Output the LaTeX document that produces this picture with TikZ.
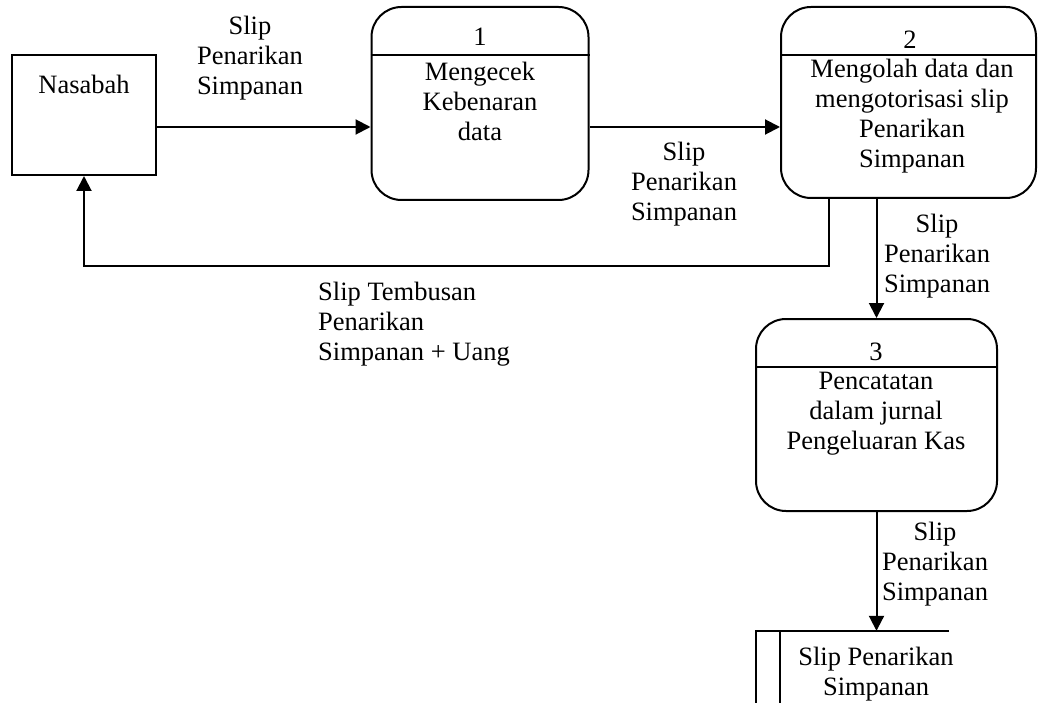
\documentclass[tikz,border=0pt]{standalone}
\usepackage{fontspec}
\setmainfont{Liberation Serif}
\usetikzlibrary{arrows.meta}
\begin{document}
\begin{tikzpicture}[x=1pt,y=-1pt,
  every node/.style={font=\fontsize{26.5}{30}\selectfont},
  ln/.style={line width=2pt},
  extbox/.style={draw,line width=2pt,minimum width=144pt,minimum height=120pt,inner sep=0pt},
  procbox/.style={draw,line width=2pt,rounded corners=30pt,inner sep=0pt},
  txt/.style={align=center,inner sep=0pt},
  arr/.style={line width=2pt,-{Triangle[length=15pt,width=15pt]}}]
\useasboundingbox (0,0) rectangle (1038,703);
% external entity
\node[extbox] (nas) at (84,115) {};
\node[txt] (nasT) at (84,84) {Nasabah};
% process 1
\node[procbox,minimum width=217pt,minimum height=193pt] (p1) at (480,103.5) {};
\coordinate (s1) at (0,55);
\draw[ln] (p1.west |- s1) -- (p1.east |- s1);
\node[txt] (p1n) at (480,37) {1};
\node[txt] (p1t) at (480,101) {Mengecek\\Kebenaran\\data};
% process 2
\node[procbox,minimum width=255pt,minimum height=191pt] (p2) at (908.5,102.5) {};
\draw[ln] (p2.west |- s1) -- (p2.east |- s1);
\node[txt] (p2n) at (910,40) {2};
\node[txt] (p2t) at (912,116) {Mengolah data dan\\mengotorisasi slip\\Penarikan\\Simpanan};
% process 3
\node[procbox,minimum width=241pt,minimum height=192pt] (p3) at (876.5,415) {};
\coordinate (s3) at (0,367);
\draw[ln] (p3.west |- s3) -- (p3.east |- s3);
\node[txt] (p3n) at (876,352) {3};
\node[txt] (p3t) at (876,414) {Pencatatan\\dalam jurnal\\Pengeluaran Kas};
% data store
\node[inner sep=0pt,minimum width=193pt,minimum height=72pt] (ds) at (852.5,667) {};
\draw[ln] (ds.north east) -- (ds.north west) -- (ds.south west);
\draw[ln] ([xshift=24pt]ds.north west) -- ([xshift=24pt]ds.south west);
\node[txt] (dsT) at (876,674) {Slip Penarikan\\Simpanan};
% flows
\coordinate (f1) at (0,127);
\draw[arr] (nas.east |- f1) -- (p1.west |- f1);
\node[txt] (l1) at (250,58) {Slip\\Penarikan\\Simpanan};
\draw[arr] (p1.east |- f1) -- (p2.west |- f1);
\node[txt] (l2) at (684,184) {Slip\\Penarikan\\Simpanan};
\draw[arr] (p3.north |- p2.south) -- (p3.north);
\node[txt] (l3) at (937,256) {Slip\\Penarikan\\Simpanan};
\coordinate (r1) at (829,266);
\draw[arr] (p2.south -| r1) -- (r1) -| (nas.south);
\node[txt,align=left,anchor=north west] (l4) at (318,282) {Slip Tembusan\\Penarikan\\Simpanan + Uang};
\draw[arr] (p3.south) -- (ds.north -| p3.south);
\node[txt] (l5) at (935,564) {Slip\\Penarikan\\Simpanan};
\end{tikzpicture}
\end{document}
